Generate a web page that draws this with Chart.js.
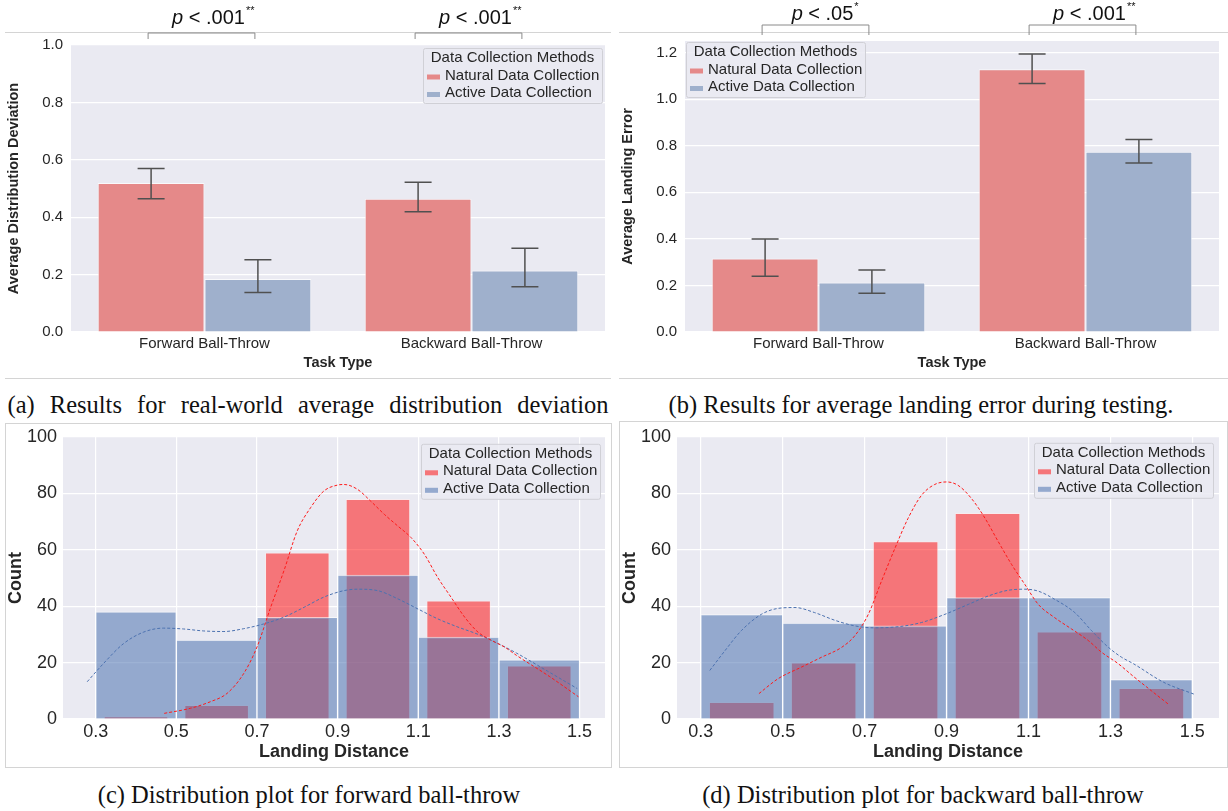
<!DOCTYPE html>
<html lang="en">
<head>
<meta charset="UTF-8">
<title>Ball-throw results</title>
<style>
  body { margin: 0; background: #fff; width: 1228px; height: 811px; position: relative; overflow: hidden; }
  canvas { position: absolute; }
  .line { position: absolute; background: #d4d4d4; height: 1px; }
  .box { position: absolute; border: 1px solid #d4d4d4; }
  .cap { position: absolute; font-family: "Liberation Serif", "Times New Roman", serif; font-size: 24.5px; line-height: 28px; color: #111; white-space: nowrap; text-align: center; width: 620px; }
</style>
<script src="https://cdn.jsdelivr.net/npm/chart.js"></script>
</head>
<body>

<div class="line" style="left:5px; top:32px; width:606px;"></div>
<div class="line" style="left:5px; top:378px; width:606px;"></div>
<div class="line" style="left:619px; top:32px; width:609px;"></div>
<div class="line" style="left:619px; top:378px; width:609px;"></div>
<div class="box" style="left:5px; top:423px; width:605px; height:343px;"></div>
<div class="box" style="left:619px; top:421px; width:607px; height:345px;"></div>

<canvas id="chartA" width="614" height="380" style="left:0; top:0;"></canvas>
<canvas id="chartB" width="614" height="380" style="left:614px; top:0;"></canvas>
<canvas id="chartC" width="614" height="350" style="left:0; top:420px;"></canvas>
<canvas id="chartD" width="614" height="350" style="left:614px; top:420px;"></canvas>

<div class="cap" style="left:-2px; top:391px; word-spacing:9px;">(a) Results for real-world average distribution deviation</div>
<div class="cap" style="left:611px; top:391px;">(b) Results for average landing error during testing.</div>
<div class="cap" style="left:-1px; top:781px;">(c) Distribution plot for forward ball-throw</div>
<div class="cap" style="left:613px; top:781px;">(d) Distribution plot for backward ball-throw</div>

<script>
    // ---- data ----
    const taskTypes = ['Forward Ball-Throw', 'Backward Ball-Throw'];
    const methods = ['Natural Data Collection', 'Active Data Collection'];

    // (a) average distribution deviation
    const devNatural = [0.519, 0.464];
    const devActive = [0.185, 0.214];
    const devNaturalLow = [0.464, 0.419];
    const devNaturalHigh = [0.570, 0.522];
    const devActiveLow = [0.138, 0.158];
    const devActiveHigh = [0.252, 0.292];
    const pValuesA = ['.001', '.001'];
    const starsA = ['**', '**'];
    const yTicksA = [0, 0.2, 0.4, 0.6, 0.8, 1.0];

    // (b) average landing error
    const errNatural = [0.316, 1.129];
    const errActive = [0.213, 0.774];
    const errNaturalLow = [0.240, 1.067];
    const errNaturalHigh = [0.399, 1.194];
    const errActiveLow = [0.166, 0.726];
    const errActiveHigh = [0.266, 0.827];
    const pValuesB = ['.05', '.001'];
    const starsB = ['*', '**'];
    const yTicksB = [0, 0.2, 0.4, 0.6, 0.8, 1.0, 1.2];

    // (c), (d) histograms of landing distance
    const binCenters = [0.4, 0.6, 0.8, 1.0, 1.2, 1.4];
    const xTicksHist = [0.3, 0.5, 0.7, 0.9, 1.1, 1.3, 1.5];
    const yTicksHist = [0, 20, 40, 60, 80, 100];

    const fwdNaturalCounts = [1, 5, 59, 78, 42, 19];
    const fwdActiveCounts = [38, 28, 36, 51, 29, 21];
    const fwdNaturalKdeX = [0.47, 0.535, 0.584, 0.626, 0.667, 0.700, 0.734, 0.767, 0.800, 0.833, 0.866, 0.900, 0.916, 0.949, 0.982, 1.016, 1.049, 1.082, 1.115, 1.148, 1.181, 1.215, 1.248, 1.281, 1.314, 1.343, 1.426, 1.497];
    const fwdNaturalKdeY = [2.0, 3.8, 6.1, 9.1, 16.1, 25.5, 39.6, 52.6, 66.7, 74.9, 80.8, 82.9, 83.1, 81.4, 77.2, 72.5, 68.4, 64.3, 58.4, 50.2, 43.2, 36.1, 30.8, 27.9, 25.5, 22.6, 15.0, 7.9];
    const fwdActiveKdeX = [0.279, 0.319, 0.369, 0.419, 0.468, 0.518, 0.568, 0.618, 0.667, 0.717, 0.767, 0.817, 0.866, 0.916, 0.949, 0.999, 1.049, 1.099, 1.148, 1.198, 1.248, 1.298, 1.343, 1.42, 1.494];
    const fwdActiveKdeY = [13.2, 19.6, 26.7, 30.8, 32.2, 31.9, 31.2, 31.0, 32.0, 33.7, 36.1, 39.6, 43.2, 45.5, 46.0, 45.5, 42.6, 39.0, 35.5, 32.6, 30.0, 26.7, 23.4, 17.0, 10.8];

    const bwdNaturalCounts = [6, 20, 63, 73, 31, 11];
    const bwdActiveCounts = [37, 34, 33, 43, 43, 14];
    const bwdNaturalKdeX = [0.442, 0.489, 0.546, 0.595, 0.644, 0.676, 0.709, 0.741, 0.774, 0.806, 0.839, 0.871, 0.900, 0.928, 0.961, 0.994, 1.026, 1.059, 1.091, 1.124, 1.164, 1.205, 1.246, 1.278, 1.319, 1.356, 1.40, 1.441];
    const bwdNaturalKdeY = [9.0, 14.3, 18.4, 21.9, 25.4, 29.5, 37.1, 48.8, 60.5, 71.1, 79.3, 83.1, 84.0, 82.8, 78.1, 71.1, 62.9, 54.7, 47.7, 40.6, 35.9, 31.9, 27.8, 23.7, 19.6, 15.1, 10.0, 5.3];
    const bwdActiveKdeX = [0.322, 0.359, 0.399, 0.448, 0.489, 0.530, 0.578, 0.627, 0.676, 0.725, 0.782, 0.839, 0.896, 0.953, 1.002, 1.050, 1.091, 1.124, 1.164, 1.213, 1.254, 1.295, 1.327, 1.356, 1.43, 1.504];
    const bwdActiveKdeY = [17.2, 24.2, 31.3, 37.1, 39.2, 39.5, 37.7, 35.0, 33.0, 32.3, 32.7, 34.2, 37.1, 40.6, 43.6, 45.6, 46.0, 45.3, 42.4, 37.7, 31.3, 25.4, 21.9, 19.6, 13.0, 8.8];

    const legendTitle = 'Data Collection Methods';

    // ---- styling ----
    const FONT = "'Liberation Sans', Arial, Helvetica, sans-serif";
    Chart.defaults.font.family = FONT;
    Chart.defaults.color = '#262626';

    const barRed = '#e58989';
    const barBlue = '#9fb0cc';
    const histRed = 'rgba(255, 0, 0, 0.5)';
    const histBlue = 'rgba(76, 114, 176, 0.55)';

    // grey plot background like seaborn darkgrid
    const plotBg = {
        id: 'plotBg',
        beforeDraw(chart) {
            const { ctx, chartArea: a } = chart;
            ctx.save();
            ctx.fillStyle = '#eaeaf2';
            ctx.fillRect(a.left, a.top, a.right - a.left, a.bottom - a.top);
            ctx.restore();
        }
    };

    // error bars from low/high arrays
    const errBars = {
        id: 'errBars',
        afterDatasetsDraw(chart, args, opts) {
            if (!opts.lows) return;
            const { ctx } = chart;
            const y = chart.scales.y;
            ctx.save();
            ctx.strokeStyle = '#505050';
            ctx.lineWidth = 1.5;
            opts.lows.forEach((lows, di) => {
                chart.getDatasetMeta(di).data.forEach((bar, j) => {
                    const yl = y.getPixelForValue(lows[j]);
                    const yh = y.getPixelForValue(opts.highs[di][j]);
                    ctx.beginPath();
                    ctx.moveTo(bar.x, yl); ctx.lineTo(bar.x, yh);
                    ctx.moveTo(bar.x - 13.5, yl); ctx.lineTo(bar.x + 13.5, yl);
                    ctx.moveTo(bar.x - 13.5, yh); ctx.lineTo(bar.x + 13.5, yh);
                    ctx.stroke();
                });
            });
            ctx.restore();
        }
    };

    // significance brackets above each pair of bars
    const pBrackets = {
        id: 'pBrackets',
        afterDraw(chart, args, opts) {
            if (!opts.values) return;
            const { ctx, chartArea: a } = chart;
            const m0 = chart.getDatasetMeta(0), m1 = chart.getDatasetMeta(1);
            ctx.save();
            opts.values.forEach((v, j) => {
                const x1 = m0.data[j].x - 3, x2 = m1.data[j].x - 3;
                const yTop = a.top - opts.top, yLeg = a.top - opts.leg;
                ctx.strokeStyle = '#8a8a8a';
                ctx.lineWidth = 1;
                ctx.beginPath();
                ctx.moveTo(x1, yLeg); ctx.lineTo(x1, yTop); ctx.lineTo(x2, yTop); ctx.lineTo(x2, yLeg);
                ctx.stroke();

                const pFont = 'italic 20px ' + FONT, rFont = '20px ' + FONT;
                const rest = ' < ' + v;
                ctx.font = pFont; const wp = ctx.measureText('p').width;
                ctx.font = rFont; const wr = ctx.measureText(rest).width;
                const x = (x1 + x2) / 2 + 7 - (wp + wr) / 2;
                const base = a.top - opts.text;
                ctx.fillStyle = '#111';
                ctx.textAlign = 'left';
                ctx.textBaseline = 'alphabetic';
                ctx.font = pFont; ctx.fillText('p', x, base);
                ctx.font = rFont; ctx.fillText(rest, x + wp, base);
                ctx.font = '11px ' + FONT; ctx.fillText(opts.stars[j], x + wp + wr + 1, base - 10);
            });
            ctx.restore();
        }
    };

    // seaborn style legend with a title, placed inside the plot
    const sbLegend = {
        id: 'sbLegend',
        afterDatasetsDraw(chart, args, opts) {
            const { ctx, chartArea: a } = chart;
            const w = 179, h = 55;
            const x = opts.side === 'left' ? a.left + opts.dx : a.right - opts.dx - w;
            const y = a.top + opts.dy;
            ctx.save();
            ctx.fillStyle = 'rgba(234, 234, 242, 0.85)';
            ctx.strokeStyle = '#d0d0d6';
            ctx.lineWidth = 1;
            ctx.beginPath();
            ctx.roundRect(x + 0.5, y + 0.5, w, h, 2);
            ctx.fill();
            ctx.stroke();
            ctx.font = '15px ' + FONT;
            ctx.fillStyle = '#262626';
            ctx.textBaseline = 'middle';
            ctx.textAlign = 'center';
            ctx.fillText(legendTitle, x + w / 2, y + 10);
            ctx.textAlign = 'left';
            [0, 1].forEach((di, i) => {
                const ds = chart.data.datasets[di];
                const rowY = y + 27.5 + i * 17.5;
                ctx.fillStyle = ds.backgroundColor;
                ctx.fillRect(x + 4, rowY - 1, 13, 5);
                ctx.fillStyle = '#262626';
                ctx.fillText(ds.label, x + 22, rowY);
            });
            ctx.restore();
        }
    };

    Chart.register(plotBg, errBars, pBrackets, sbLegend);

    function barChart(id, natural, active, yMax, yTicks, yTitle, errOpts, bracketOpts, legendOpts, padTop) {
        return new Chart(document.getElementById(id), {
            type: 'bar',
            data: {
                labels: taskTypes,
                datasets: [
                    { label: methods[0], data: natural, backgroundColor: barRed, borderColor: 'rgba(255,255,255,0.7)', borderWidth: 1, borderSkipped: 'bottom' },
                    { label: methods[1], data: active, backgroundColor: barBlue, borderColor: 'rgba(255,255,255,0.7)', borderWidth: 1, borderSkipped: 'bottom' }
                ]
            },
            options: {
                responsive: false,
                animation: false,
                categoryPercentage: 0.8,
                barPercentage: 1.0,
                layout: { padding: { top: padTop, right: 9, left: 0, bottom: 0 } },
                scales: {
                    x: {
                        grid: { display: false },
                        border: { display: false },
                        ticks: { font: { size: 15 }, padding: -5 },
                        title: { display: true, text: 'Task Type', font: { size: 14.5, weight: 'bold' }, padding: { top: 0, bottom: 8 } },
                        afterFit: s => { s.height = 48; }
                    },
                    y: {
                        min: 0,
                        max: yMax,
                        afterBuildTicks: s => { s.ticks = yTicks.map(v => ({ value: v })); },
                        grid: { color: '#ffffff', lineWidth: 1.2, drawTicks: false },
                        border: { display: false },
                        ticks: { font: { size: 15 }, padding: 8, callback: v => Number(v).toFixed(1) },
                        title: { display: true, text: yTitle, font: { size: 14.5, weight: 'bold' }, padding: { top: 5, bottom: 0 } },
                        afterFit: s => { s.width = 71; }
                    }
                },
                plugins: {
                    legend: { display: false },
                    tooltip: { enabled: false },
                    errBars: errOpts,
                    pBrackets: bracketOpts,
                    sbLegend: legendOpts
                }
            }
        });
    }

    barChart('chartA', devNatural, devActive, 1.0, yTicksA, 'Average Distribution Deviation',
        { lows: [devNaturalLow, devActiveLow], highs: [devNaturalHigh, devActiveHigh] },
        { values: pValuesA, stars: starsA, top: 12, leg: 6, text: 21 },
        { side: 'right', dx: 3, dy: 3 }, 45);

    barChart('chartB', errNatural, errActive, 1.25, yTicksB, 'Average Landing Error',
        { lows: [errNaturalLow, errActiveLow], highs: [errNaturalHigh, errActiveHigh] },
        { values: pValuesB, stars: starsB, top: 16, leg: 6, text: 21 },
        { side: 'left', dx: 1, dy: 1 }, 41);

    function histChart(id, naturalCounts, activeCounts, natKdeX, natKdeY, actKdeX, actKdeY, xMin, xMax, padTop, legendOpts) {
        return new Chart(document.getElementById(id), {
            type: 'bar',
            data: {
                datasets: [
                    {
                        label: methods[0],
                        data: binCenters.map((c, i) => ({ x: c, y: naturalCounts[i] })),
                        backgroundColor: histRed,
                        borderColor: 'rgba(255,235,235,0.6)',
                        borderWidth: 1,
                        borderSkipped: 'bottom',
                        grouped: false,
                        barPercentage: 0.8,
                        categoryPercentage: 1.0,
                        order: 2
                    },
                    {
                        label: methods[1],
                        data: binCenters.map((c, i) => ({ x: c, y: activeCounts[i] })),
                        backgroundColor: histBlue,
                        borderColor: 'rgba(255,255,255,0.6)',
                        borderWidth: 1,
                        borderSkipped: 'bottom',
                        grouped: false,
                        barPercentage: 1.0,
                        categoryPercentage: 1.0,
                        order: 1
                    },
                    {
                        type: 'line',
                        label: 'Natural KDE',
                        data: natKdeX.map((x, i) => ({ x: x, y: natKdeY[i] })),
                        borderColor: '#ff1a1a',
                        borderWidth: 1,
                        borderDash: [3, 2],
                        pointRadius: 0,
                        cubicInterpolationMode: 'monotone',
                        order: 0
                    },
                    {
                        type: 'line',
                        label: 'Active KDE',
                        data: actKdeX.map((x, i) => ({ x: x, y: actKdeY[i] })),
                        borderColor: '#4c72b0',
                        borderWidth: 1,
                        borderDash: [3, 2],
                        pointRadius: 0,
                        cubicInterpolationMode: 'monotone',
                        order: 0
                    }
                ]
            },
            options: {
                responsive: false,
                animation: false,
                layout: { padding: { top: padTop, right: 9, left: 0, bottom: 0 } },
                scales: {
                    x: {
                        type: 'linear',
                        offset: false,
                        min: xMin,
                        max: xMax,
                        afterBuildTicks: s => { s.ticks = xTicksHist.map(v => ({ value: v })); },
                        grid: { color: '#ffffff', lineWidth: 1.2, drawTicks: false, offset: false },
                        border: { display: false },
                        ticks: { font: { size: 18 }, padding: 2, callback: v => Number(v).toFixed(1) },
                        title: { display: true, text: 'Landing Distance', font: { size: 18, weight: 'bold' }, padding: { top: 0, bottom: 7 } },
                        afterFit: s => { s.height = 51; }
                    },
                    y: {
                        min: 0,
                        max: 100,
                        afterBuildTicks: s => { s.ticks = yTicksHist.map(v => ({ value: v })); },
                        grid: { color: '#ffffff', lineWidth: 1.2, drawTicks: false },
                        border: { display: false },
                        ticks: { font: { size: 18 }, padding: 6 },
                        title: { display: true, text: 'Count', font: { size: 18, weight: 'bold' }, padding: { top: 5, bottom: 0 } },
                        afterFit: s => { s.width = 63; }
                    }
                },
                plugins: {
                    legend: { display: false },
                    tooltip: { enabled: false },
                    sbLegend: legendOpts
                }
            }
        });
    }

    histChart('chartC', fwdNaturalCounts, fwdActiveCounts, fwdNaturalKdeX, fwdNaturalKdeY, fwdActiveKdeX, fwdActiveKdeY,
        0.219, 1.563, 16, { side: 'right', dx: 5, dy: 7 });

    histChart('chartD', bwdNaturalCounts, bwdActiveCounts, bwdNaturalKdeX, bwdNaturalKdeY, bwdActiveKdeX, bwdActiveKdeY,
        0.242, 1.565, 15, { side: 'right', dx: 6, dy: 6 });
</script>

</body>
</html>
